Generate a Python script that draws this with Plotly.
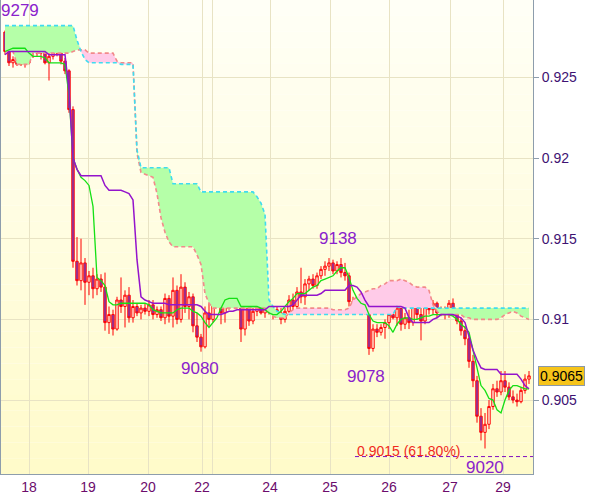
import plotly.graph_objects as go

# ---------------- data ----------------
bar_index = list(range(132))

opens = [0.9278,0.9266,0.9259,0.9261,0.9258,0.9260,0.9259,0.9266,0.9268,0.9265,
         0.9266,0.9259,0.9263,0.9268,0.9265,0.9260,0.9254,0.9230,0.9136,0.9124,
         0.9135,0.9123,0.9127,0.9119,0.9125,0.9120,0.9098,0.9103,0.9094,0.9112,
         0.9108,0.9115,0.9101,0.9108,0.9104,0.9107,0.9105,0.9109,0.9103,0.9106,
         0.9101,0.9113,0.9102,0.9118,0.9100,0.9120,0.9108,0.9114,0.9096,0.9089,
         0.9083,0.9104,0.9100,0.9121,0.9112,0.9104,0.9109,0.9126,0.9113,0.9127,
         0.9094,0.9108,0.9099,0.9105,0.9107,0.9104,0.9107,0.9105,0.9106,0.9104,
         0.9100,0.9105,0.9112,0.9108,0.9117,0.9114,0.9122,0.9125,0.9121,0.9127,
         0.9131,0.9133,0.9135,0.9130,0.9134,0.9129,0.9127,0.9111,0.9108,0.9106,
         0.9109,0.9106,0.9082,0.9094,0.9092,0.9095,0.9098,0.9103,0.9101,0.9107,
         0.9097,0.9101,0.9098,0.9112,0.9103,0.9099,0.9109,0.9106,0.9110,0.9104,
         0.9106,0.9103,0.9110,0.9104,0.9099,0.9093,0.9088,0.9074,0.9062,0.9040,
         0.9030,0.9035,0.9046,0.9057,0.9055,0.9062,0.9058,0.9052,0.9050,0.9049,
         0.9056,0.9063]
highs = [0.9279,0.9270,0.9263,0.9263,0.9262,0.9262,0.9268,0.9270,0.9269,0.9268,
         0.9267,0.9265,0.9269,0.9270,0.9268,0.9262,0.9255,0.9232,0.9151,0.9150,
         0.9138,0.9130,0.9132,0.9128,0.9128,0.9129,0.9108,0.9106,0.9114,0.9126,
         0.9118,0.9120,0.9112,0.9110,0.9109,0.9110,0.9112,0.9112,0.9108,0.9108,
         0.9116,0.9115,0.9126,0.9121,0.9128,0.9123,0.9117,0.9116,0.9104,0.9091,
         0.9108,0.9110,0.9124,0.9125,0.9118,0.9112,0.9129,0.9128,0.9130,0.9129,
         0.9112,0.9110,0.9109,0.9109,0.9110,0.9109,0.9109,0.9108,0.9108,0.9107,
         0.9107,0.9115,0.9116,0.9120,0.9132,0.9125,0.9127,0.9128,0.9129,0.9133,
         0.9136,0.9138,0.9137,0.9136,0.9138,0.9135,0.9129,0.9114,0.9112,0.9111,
         0.9113,0.9109,0.9097,0.9097,0.9097,0.9100,0.9106,0.9112,0.9110,0.9109,
         0.9104,0.9106,0.9116,0.9116,0.9110,0.9112,0.9116,0.9112,0.9111,0.9108,
         0.9108,0.9112,0.9113,0.9106,0.9101,0.9096,0.9091,0.9078,0.9065,0.9045,
         0.9042,0.9050,0.9060,0.9062,0.9068,0.9068,0.9061,0.9056,0.9054,0.9058,
         0.9066,0.9068]
lows = [0.9264,0.9257,0.9256,0.9257,0.9257,0.9256,0.9258,0.9262,0.9263,0.9261,
        0.9258,0.9248,0.9261,0.9263,0.9258,0.9252,0.9228,0.9132,0.9121,0.9118,
        0.9109,0.9115,0.9113,0.9115,0.9117,0.9093,0.9091,0.9090,0.9093,0.9104,
        0.9095,0.9098,0.9098,0.9102,0.9100,0.9103,0.9102,0.9100,0.9101,0.9099,
        0.9097,0.9098,0.9095,0.9097,0.9098,0.9104,0.9100,0.9092,0.9086,0.9080,
        0.9082,0.9096,0.9098,0.9108,0.9097,0.9098,0.9106,0.9110,0.9111,0.9086,
        0.9090,0.9096,0.9097,0.9102,0.9103,0.9101,0.9103,0.9100,0.9101,0.9097,
        0.9098,0.9103,0.9104,0.9106,0.9110,0.9109,0.9118,0.9119,0.9119,0.9125,
        0.9127,0.9130,0.9128,0.9128,0.9126,0.9124,0.9108,0.9104,0.9105,0.9104,
        0.9103,0.9078,0.9080,0.9089,0.9090,0.9088,0.9094,0.9100,0.9096,0.9093,
        0.9094,0.9094,0.9096,0.9100,0.9087,0.9097,0.9103,0.9103,0.9101,0.9102,
        0.9100,0.9101,0.9102,0.9097,0.9090,0.9084,0.9070,0.9058,0.9036,0.9025,
        0.9020,0.9032,0.9044,0.9052,0.9053,0.9055,0.9050,0.9048,0.9046,0.9048,
        0.9054,0.9060]
closes = [0.9266,0.9259,0.9261,0.9258,0.9260,0.9259,0.9266,0.9268,0.9265,0.9266,
          0.9259,0.9263,0.9268,0.9265,0.9260,0.9254,0.9230,0.9136,0.9124,0.9135,
          0.9123,0.9127,0.9119,0.9125,0.9120,0.9098,0.9103,0.9094,0.9112,0.9108,
          0.9115,0.9101,0.9108,0.9104,0.9107,0.9105,0.9109,0.9103,0.9106,0.9101,
          0.9113,0.9102,0.9118,0.9100,0.9120,0.9108,0.9114,0.9096,0.9089,0.9083,
          0.9104,0.9100,0.9121,0.9112,0.9104,0.9109,0.9126,0.9113,0.9127,0.9094,
          0.9108,0.9099,0.9105,0.9107,0.9104,0.9107,0.9105,0.9106,0.9104,0.9100,
          0.9105,0.9112,0.9108,0.9117,0.9114,0.9122,0.9125,0.9121,0.9127,0.9131,
          0.9133,0.9135,0.9130,0.9134,0.9129,0.9127,0.9111,0.9108,0.9106,0.9109,
          0.9106,0.9082,0.9094,0.9092,0.9095,0.9098,0.9103,0.9101,0.9107,0.9097,
          0.9101,0.9098,0.9112,0.9103,0.9099,0.9109,0.9106,0.9110,0.9104,0.9106,
          0.9103,0.9110,0.9104,0.9099,0.9093,0.9088,0.9074,0.9062,0.9040,0.9030,
          0.9035,0.9046,0.9057,0.9055,0.9062,0.9058,0.9052,0.9050,0.9049,0.9056,
          0.9063,0.9065]

tenkan = [0.9266,0.9267,0.9268,0.9268,0.9268,0.9268,0.9265,0.9263,0.9263,0.9263,
          0.9262,0.9259,0.9259,0.9259,0.9259,0.9258,0.9239,0.9200,0.9193,0.9188,
          0.9186,0.9183,0.9170,0.9126,0.9124,0.9121,0.9111,0.9109,0.9109,0.9110,
          0.9110,0.9110,0.9110,0.9110,0.9110,0.9110,0.9109,0.9106,0.9105,0.9104,
          0.9104,0.9104,0.9104,0.9106,0.9107,0.9107,0.9107,0.9105,0.9104,0.9102,
          0.9098,0.9095,0.9098,0.9101,0.9107,0.9112,0.9113,0.9113,0.9113,0.9108,
          0.9108,0.9108,0.9108,0.9108,0.9107,0.9106,0.9104,0.9103,0.9103,0.9105,
          0.9108,0.9111,0.9113,0.9116,0.9116,0.9116,0.9118,0.9120,0.9121,0.9124,
          0.9125,0.9126,0.9127,0.9130,0.9132,0.9132,0.9126,0.9118,0.9113,0.9110,
          0.9109,0.9103,0.9099,0.9098,0.9098,0.9098,0.9096,0.9092,0.9097,0.9100,
          0.9101,0.9101,0.9100,0.9100,0.9101,0.9102,0.9102,0.9103,0.9103,0.9103,
          0.9103,0.9103,0.9102,0.9100,0.9097,0.9095,0.9092,0.9081,0.9069,0.9059,
          0.9056,0.9051,0.9050,0.9044,0.9042,0.9050,0.9056,0.9059,0.9059,0.9058,
          0.9057,0.9057]

kijun = [0.9264,0.9266,0.9266,0.9266,0.9266,0.9266,0.9266,0.9266,0.9266,0.9266,
         0.9266,0.9264,0.9264,0.9264,0.9264,0.9264,0.9242,0.9200,0.9193,0.9189,
         0.9189,0.9189,0.9189,0.9189,0.9189,0.9183,0.9180,0.9180,0.9180,0.9180,
         0.9179,0.9178,0.9174,0.9137,0.9114,0.9112,0.9111,0.9110,0.9110,0.9110,
         0.9110,0.9109,0.9109,0.9109,0.9109,0.9109,0.9109,0.9109,0.9109,0.9108,
         0.9105,0.9103,0.9103,0.9103,0.9103,0.9104,0.9105,0.9105,0.9106,0.9106,
         0.9106,0.9106,0.9106,0.9106,0.9106,0.9106,0.9108,0.9108,0.9108,0.9108,
         0.9108,0.9108,0.9109,0.9112,0.9115,0.9115,0.9115,0.9115,0.9115,0.9116,
         0.9118,0.9118,0.9118,0.9118,0.9118,0.9118,0.9121,0.9121,0.9120,0.9117,
         0.9112,0.9108,0.9108,0.9108,0.9108,0.9108,0.9108,0.9108,0.9108,0.9108,
         0.9107,0.9101,0.9098,0.9098,0.9098,0.9098,0.9098,0.9100,0.9101,0.9103,
         0.9103,0.9103,0.9103,0.9102,0.9101,0.9098,0.9089,0.9081,0.9075,0.9070,
         0.9069,0.9069,0.9069,0.9069,0.9066,0.9066,0.9066,0.9066,0.9066,0.9063,
         0.9059,0.9057]

span_a = [0.9282,0.9282,0.9282,0.9282,0.9282,0.9282,0.9282,0.9282,0.9282,0.9282,
          0.9282,0.9282,0.9282,0.9282,0.9282,0.9282,0.9282,0.9282,0.9273,0.9266,
          0.9261,0.9259,0.9259,0.9259,0.9259,0.9259,0.9259,0.9259,0.9259,0.9258,
          0.9258,0.9258,0.9258,0.9205,0.9194,0.9194,0.9194,0.9194,0.9194,0.9194,
          0.9194,0.9194,0.9184,0.9184,0.9184,0.9184,0.9184,0.9184,0.9184,0.9179,
          0.9179,0.9179,0.9179,0.9179,0.9179,0.9179,0.9179,0.9179,0.9179,0.9179,
          0.9179,0.9179,0.9179,0.9176,0.9172,0.9165,0.9112,0.9108,0.9105,0.9104,
          0.9103,0.9103,0.9103,0.9103,0.9103,0.9103,0.9103,0.9103,0.9103,0.9103,
          0.9103,0.9103,0.9103,0.9103,0.9103,0.9103,0.9103,0.9103,0.9103,0.9103,
          0.9103,0.9103,0.9103,0.9103,0.9103,0.9103,0.9103,0.9103,0.9108,0.9107,
          0.9107,0.9107,0.9107,0.9107,0.9107,0.9107,0.9107,0.9107,0.9107,0.9107,
          0.9107,0.9107,0.9107,0.9107,0.9107,0.9107,0.9107,0.9107,0.9107,0.9107,
          0.9107,0.9107,0.9107,0.9107,0.9107,0.9107,0.9107,0.9107,0.9107,0.9107,
          0.9107,0.9107]

span_b = [0.9266,0.9266,0.9266,0.9258,0.9258,0.9258,0.9258,0.9265,0.9265,0.9265,
          0.9265,0.9265,0.9265,0.9265,0.9265,0.9265,0.9265,0.9266,0.9267,0.9267,
          0.9267,0.9265,0.9265,0.9265,0.9265,0.9265,0.9265,0.9265,0.9260,0.9259,
          0.9259,0.9259,0.9259,0.9203,0.9191,0.9190,0.9189,0.9188,0.9178,0.9163,
          0.9154,0.9148,0.9145,0.9145,0.9145,0.9145,0.9145,0.9145,0.9140,0.9134,
          0.9116,0.9110,0.9107,0.9107,0.9107,0.9107,0.9107,0.9107,0.9107,0.9107,
          0.9107,0.9107,0.9107,0.9107,0.9107,0.9107,0.9104,0.9102,0.9101,0.9101,
          0.9101,0.9104,0.9106,0.9107,0.9107,0.9107,0.9107,0.9107,0.9107,0.9107,
          0.9107,0.9107,0.9106,0.9106,0.9106,0.9106,0.9107,0.9112,0.9114,0.9116,
          0.9117,0.9118,0.9119,0.9119,0.9121,0.9122,0.9124,0.9124,0.9124,0.9125,
          0.9124,0.9123,0.9121,0.9120,0.9120,0.9120,0.9118,0.9109,0.9105,0.9103,
          0.9103,0.9103,0.9103,0.9103,0.9103,0.9101,0.9101,0.9100,0.9100,0.9100,
          0.9100,0.9100,0.9100,0.9100,0.9101,0.9103,0.9104,0.9105,0.9104,0.9102,
          0.9101,0.9100]

date_tick_pos = [6, 20.75, 35.75, 49.25, 51.75, 66.25, 81.25, 96, 111.25, 124.5]
date_tick_text = ["18", "19", "20", "22", "", "24", "25", "26", "27", "29"]
price_ticks = [0.905, 0.91, 0.915, 0.92, 0.925]
price_tick_text = ["0.905", "0.91", "0.915", "0.92", "0.925"]

label_text = ["9279", "9138", "9080", "9078", "9020"]
label_bar = [0, 81, 49, 91, 120]
label_price = [0.9279, 0.9138, 0.9080, 0.9078, 0.9020]

fib_level = 0.9015
fib_text = "0.9015 (61.80%)"
fib_start_bar = 87.5
last_price = 0.9065
last_price_text = "0.9065"

# ---------------- styles ----------------
FONT = "Liberation Sans, Arial, sans-serif"
GREEN_FILL = "#b5ffa8"
PINK_FILL = "#ffcbe8"
CYAN = "#3fdcef"
SALMON = "#f28a8a"
TENKAN_C = "#14e014"
KIJUN_C = "#9414cc"
LABEL_C = "#8a22cc"
GRID_C = "#e8e3c4"
AXIS_C = "#8d9dac"

upper = [max(a, b) for a, b in zip(span_a, span_b)]

fig = go.Figure()
# green cloud: between span B and the upper envelope
fig.add_trace(go.Scatter(x=bar_index, y=span_b, mode="lines", line=dict(width=0),
                         hoverinfo="skip", showlegend=False))
fig.add_trace(go.Scatter(x=bar_index, y=upper, mode="lines", line=dict(width=0),
                         fill="tonexty", fillcolor=GREEN_FILL, hoverinfo="skip", showlegend=False))
# pink cloud: between span A and the upper envelope
fig.add_trace(go.Scatter(x=bar_index, y=span_a, mode="lines", line=dict(width=0),
                         hoverinfo="skip", showlegend=False))
fig.add_trace(go.Scatter(x=bar_index, y=upper, mode="lines", line=dict(width=0),
                         fill="tonexty", fillcolor=PINK_FILL, hoverinfo="skip", showlegend=False))
# cloud borders
fig.add_trace(go.Scatter(x=bar_index, y=span_b, mode="lines",
                         line=dict(color=SALMON, width=1.6, dash="4px,3px"), showlegend=False))
fig.add_trace(go.Scatter(x=bar_index, y=span_a, mode="lines",
                         line=dict(color=CYAN, width=1.6, dash="4px,3px"), showlegend=False))

fig.add_trace(go.Candlestick(
    x=bar_index, open=opens, high=highs, low=lows, close=closes,
    increasing=dict(line=dict(color="#ff0000", width=1), fillcolor="#fffbe6"),
    decreasing=dict(line=dict(color="#ff0000", width=1), fillcolor="#7a3cc0"),
    whiskerwidth=0, showlegend=False))

fig.add_trace(go.Scatter(x=bar_index, y=tenkan, mode="lines",
                         line=dict(color=TENKAN_C, width=1.3), showlegend=False))
fig.add_trace(go.Scatter(x=bar_index, y=kijun, mode="lines",
                         line=dict(color=KIJUN_C, width=1.5), showlegend=False))

# background gradient of the plot area
shapes = []
n_bands = 30
top_rgb = (255, 255, 246)
bot_rgb = (255, 251, 202)
for i in range(n_bands):
    t = i / (n_bands - 1)
    c = tuple(round(top_rgb[j] + (bot_rgb[j] - top_rgb[j]) * t) for j in range(3))
    shapes.append(dict(type="rect", xref="paper", yref="paper", x0=0, x1=1,
                       y0=1 - (i + 1) / n_bands, y1=1 - i / n_bands,
                       fillcolor="rgb(%d,%d,%d)" % c, line=dict(width=0), layer="below"))
# fibonacci level line
shapes.append(dict(type="line", xref="x", yref="y", x0=fib_start_bar, x1=132,
                   y0=fib_level, y1=fib_level, line=dict(color="#8010c0", width=1, dash="4px,3px")))

annotations = []
label_dx = [15, 9, -1, -3, 0]
label_dy = [20, 20, -17, -22, -19]
for txt, b, p, dx, dy in zip(label_text, label_bar, label_price, label_dx, label_dy):
    annotations.append(dict(x=b, y=p, xref="x", yref="y", text=txt, showarrow=False,
                            xshift=dx, yshift=dy, xanchor="center", yanchor="middle",
                            font=dict(family=FONT, size=17, color=LABEL_C)))
annotations.append(dict(x=fib_start_bar, y=fib_level, xref="x", yref="y", text=fib_text,
                        showarrow=False, xanchor="left", yanchor="middle", yshift=6,
                        font=dict(family=FONT, size=14, color="#f02a1e")))
annotations.append(dict(x=1, y=last_price, xref="paper", yref="y", text=last_price_text,
                        showarrow=False, xanchor="left", yanchor="middle", xshift=5,
                        bgcolor="#f6c41a", bordercolor="#8a98a8", borderwidth=1, borderpad=1,
                        font=dict(family=FONT, size=14, color="#000000")))

fig.update_layout(
    width=600, height=497,
    margin=dict(l=1, r=67, t=0, b=23),
    paper_bgcolor="white", plot_bgcolor="rgba(0,0,0,0)",
    showlegend=False, shapes=shapes, annotations=annotations,
    boxgap=0.15,
    xaxis=dict(range=[-1, 132], tickmode="array", tickvals=date_tick_pos, ticktext=date_tick_text,
               showgrid=True, gridcolor=GRID_C, gridwidth=1, zeroline=False,
               showline=True, linecolor=AXIS_C, linewidth=1, ticks="",
               rangeslider=dict(visible=False),
               tickfont=dict(family=FONT, size=14, color="#6c0c6c")),
    yaxis=dict(side="right", range=[0.90042, 0.92979], tickmode="array",
               tickvals=price_ticks, ticktext=price_tick_text,
               showgrid=True, gridcolor=GRID_C, gridwidth=1, zeroline=False,
               showline=True, mirror=True, linecolor=AXIS_C, linewidth=1,
               ticks="outside", ticklen=5, tickcolor=AXIS_C,
               tickfont=dict(family=FONT, size=14, color="#3e1272")),
)

fig.write_html("out.html", config={"displayModeBar": False},
               post_script="document.body.style.margin='0';document.body.style.padding='0';")
